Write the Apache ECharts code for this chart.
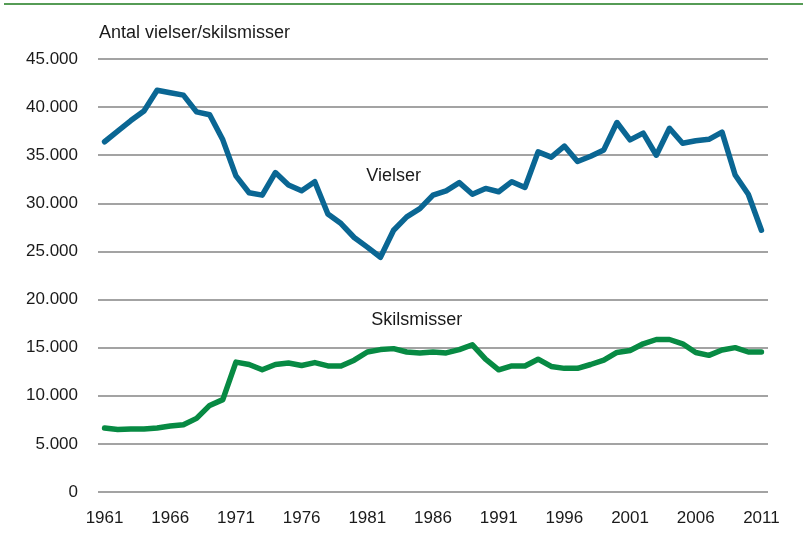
<!DOCTYPE html>
<html>
<head>
<meta charset="utf-8">
<script src="https://cdn.jsdelivr.net/npm/echarts@6/dist/echarts.min.js"></script>
<style>
html,body{margin:0;padding:0;background:#fff;}
#chart{width:807px;height:534px;}
</style>
</head>
<body>
<div id="chart"></div>
<script>
const years = [];
for (let y = 1961; y <= 2011; y++) years.push(String(y));

const vielser = [
  36400, 37500, 38600, 39600, 41750, 41500, 41250, 39500, 39200, 36600,
  32850, 31100, 30850, 33200, 31900, 31300, 32250, 28900, 27900, 26450,
  25450, 24400, 27200, 28600, 29450, 30850, 31300, 32150, 30950, 31550,
  31200, 32250, 31650, 35350, 34800, 35950, 34350, 34900, 35550, 38400,
  36600, 37300, 35000, 37800, 36250, 36500, 36650, 37400, 32950, 30950,
  27200
];

const skilsmisser = [
  6650, 6500, 6550, 6550, 6650, 6850, 7000, 7650, 9000, 9600,
  13500, 13250, 12700, 13250, 13400, 13150, 13450, 13100, 13100, 13700,
  14550, 14800, 14900, 14550, 14450, 14550, 14450, 14800, 15300, 13800,
  12700, 13100, 13100, 13800, 13050, 12850, 12850, 13250, 13700, 14500,
  14700, 15400, 15850, 15850, 15400, 14500, 14200, 14750, 15000, 14550,
  14550
];

const yTicks = { min: 0, max: 45000, interval: 5000 };
const yTitle = 'Antal vielser/skilsmisser';
const nameV = 'Vielser';
const nameS = 'Skilsmisser';

const FONT = '"Liberation Sans", Arial, sans-serif';
const chart = echarts.init(document.getElementById('chart'), null, {renderer: 'canvas'});

function fmt(v) {
  return String(v).replace(/\B(?=(\d{3})+(?!\d))/g, '.');
}

function labelPoint(coord, text, offset) {
  return {
    symbol: 'circle',
    symbolSize: 1,
    silent: true,
    itemStyle: { color: 'rgba(0,0,0,0)' },
    data: [{ coord: coord, value: text }],
    label: {
      show: true, position: 'inside', offset: offset || [0, 0],
      formatter: text, fontFamily: FONT, fontSize: 18, color: '#1a1a1a'
    }
  };
}

chart.setOption({
  animation: false,
  backgroundColor: '#ffffff',
  grid: { left: 98, right: 39, top: 59, bottom: 42, containLabel: false },
  xAxis: {
    type: 'category',
    data: years,
    boundaryGap: true,
    axisLine: { show: false },
    axisTick: { show: false },
    axisLabel: {
      interval: 4,
      margin: 18,
      fontFamily: FONT,
      fontSize: 17,
      color: '#1a1a1a'
    },
    splitLine: { show: false }
  },
  yAxis: {
    type: 'value',
    min: yTicks.min,
    max: yTicks.max,
    interval: yTicks.interval,
    axisLine: { show: false },
    axisTick: { show: false },
    axisLabel: {
      margin: 20,
      fontFamily: FONT,
      fontSize: 17,
      color: '#1a1a1a',
      formatter: fmt
    },
    splitLine: { lineStyle: { color: '#a3a3a3', width: 2 } }
  },
  graphic: [
    {
      type: 'line',
      shape: { x1: 4, y1: 4, x2: 803, y2: 4 },
      style: { stroke: '#1e7b1e', lineWidth: 1.5 }
    },
    {
      type: 'text',
      left: 99,
      top: 24,
      style: { text: yTitle, font: '18px ' + FONT, fill: '#1a1a1a' }
    }
  ],
  series: [
    {
      name: nameV,
      type: 'line',
      data: vielser,
      symbol: 'none',
      lineStyle: { color: '#0a6693', width: 5.5, cap: 'round', join: 'round' },
      markPoint: labelPoint(['1983', 32850], nameV, [0, 0])
    },
    {
      name: nameS,
      type: 'line',
      data: skilsmisser,
      symbol: 'none',
      lineStyle: { color: '#078a43', width: 5.5, cap: 'round', join: 'round' },
      markPoint: labelPoint(['1985', 17900], nameS, [-3, 0])
    }
  ]
});
</script>
</body>
</html>
